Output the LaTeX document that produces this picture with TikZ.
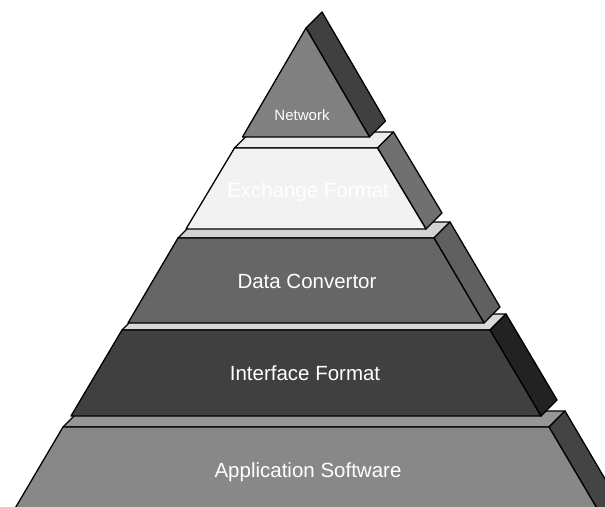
\documentclass[tikz,border=0pt]{standalone}
\usepackage{fontspec}
\newfontfamily\labfont{Liberation Sans}
\definecolor{netfront}{HTML}{808080}
\definecolor{netside}{HTML}{404040}
\definecolor{exfront}{HTML}{F2F2F2}
\definecolor{extop}{HTML}{EDEDED}
\definecolor{exside}{HTML}{707070}
\definecolor{dcfront}{HTML}{666666}
\definecolor{dctop}{HTML}{D2D2D2}
\definecolor{dcside}{HTML}{606060}
\definecolor{iffront}{HTML}{404040}
\definecolor{iftop}{HTML}{D8D8D8}
\definecolor{ifside}{HTML}{222222}
\definecolor{apfront}{HTML}{888888}
\definecolor{aptop}{HTML}{969696}
\definecolor{apside}{HTML}{444444}
\tikzset{
  face/.style={draw=black, line width=1.3pt, line join=round},
  lab/.style={text=white, inner sep=0pt, anchor=base, font=\labfont\fontsize{20.5}{22}\selectfont},
  smalllab/.style={lab, font=\labfont\fontsize{15}{17}\selectfont}
}
% #1 ytop, #2 half width at top, #3 ybottom, #4 half width at bottom,
% #5 top colour, #6 side colour, #7 front colour
\newcommand\pyrtier[7]{%
  \filldraw[face, fill=#5] (306-#2,#1) -- (306+#2,#1) -- (306+#2+16,#1-16) -- (306-#2+16,#1-16) -- cycle;
  \filldraw[face, fill=#6] (306+#2,#1) -- (306+#2+16,#1-16) -- (306+#4+16,#3-16) -- (306+#4,#3) -- cycle;
  \filldraw[face, fill=#7] (306-#2,#1) -- (306+#2,#1) -- (306+#4,#3) -- (306-#4,#3) -- cycle;
}
\begin{document}
\begin{tikzpicture}[x=1pt, y=-1pt]
\useasboundingbox (0,0) rectangle (605,506);
\clip (0,0) rectangle (605,506);
\pyrtier{427}{243}{522}{299}{aptop}{apside}{apfront}
\pyrtier{330}{184}{416}{235}{iftop}{ifside}{iffront}
\pyrtier{238}{128}{323}{178}{dctop}{dcside}{dcfront}
\pyrtier{148}{71.5}{229}{120}{extop}{exside}{exfront}
\filldraw[face, fill=netside] (306,28) -- (322,12) -- (306+63.5+16,137-16) -- (306+63.5,137) -- cycle;
\filldraw[face, fill=netfront] (306,28) -- (306+63.5,137) -- (306-63.5,137) -- cycle;
\node[smalllab] (network) at (302,120) {Network};
\node[lab] (exchange) at (308,197) {Exchange Format};
\node[lab] (convertor) at (307,288) {Data Convertor};
\node[lab] (interface) at (305,380) {Interface Format};
\node[lab] (application) at (308,477) {Application Software};
\end{tikzpicture}
\end{document}
